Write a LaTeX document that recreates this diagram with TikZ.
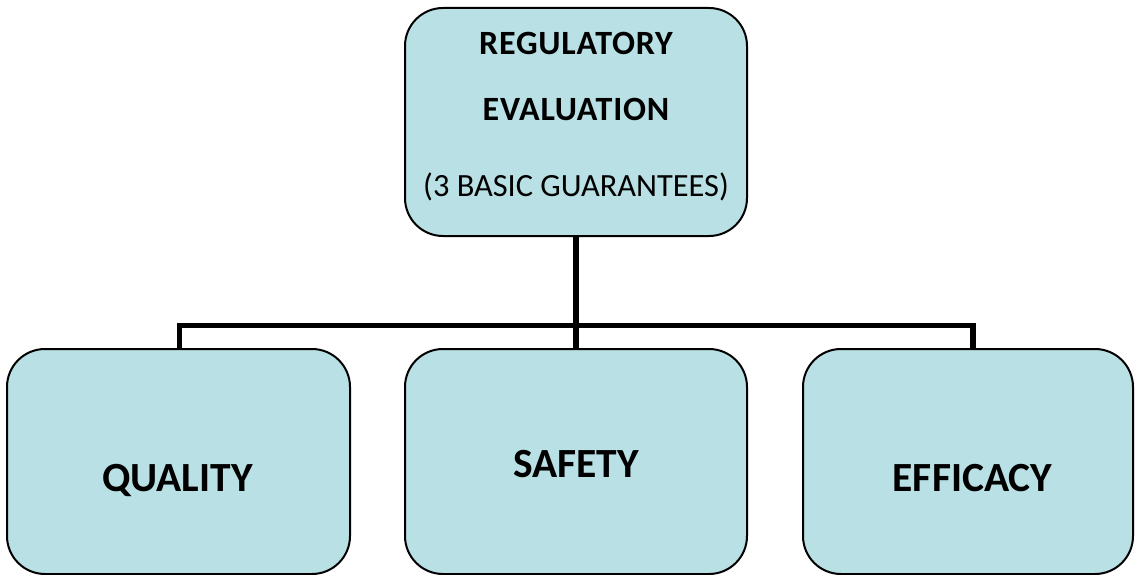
\documentclass[tikz,border=0pt]{standalone}
\usepackage{fontspec}
\setmainfont{Carlito}
\definecolor{boxfill}{RGB}{185,224,228}
\tikzset{
  card/.style={draw=black, line width=2pt, fill=boxfill, rounded corners=38pt,
               rectangle, inner sep=0pt},
  headtxt/.style={anchor=base, inner sep=0pt,
                  font=\fontsize{34}{40}\selectfont\bfseries\addfontfeature{LetterSpace=2.3}},
  subtxt/.style={anchor=base, inner sep=0pt, font=\fontsize{32.4}{38}\selectfont},
  leaftxt/.style={anchor=base, inner sep=0pt, font=\fontsize{41.5}{48}\selectfont\bfseries},
  link/.style={draw=black, line width=5.8pt}
}
\begin{document}
\begin{tikzpicture}[x=1pt,y=-1pt]
\useasboundingbox (0,0) rectangle (1135,575);

% boxes
\node[card, minimum width=342pt, minimum height=228pt] (top) at (576,122) {};
\node[card, minimum width=343pt, minimum height=225pt] (qual) at (178.5,461.5) {};
\node[card, minimum width=342pt, minimum height=225pt] (safe) at (576,461.5) {};
\node[card, minimum width=330pt, minimum height=225pt] (effi) at (968,461.5) {};

% labels
\node[headtxt] (t1) at (576,55) {REGULATORY};
\node[headtxt] (t2) at (576,120.5) {EVALUATION};
\node[subtxt]  (t3) at (576,196.5) {(3 BASIC GUARANTEES)};
\node[leaftxt] (l1) at (177.5,491.7) {QUALITY};
\node[leaftxt] (l2) at (576,477.3) {SAFETY};
\node[leaftxt] (l3) at (972.5,491.7) {EFFICACY};

% tree connectors
\coordinate (bus) at (576,325.5);
\coordinate (busL) at (179.5,325.5);
\coordinate (busR) at (973,325.5);
\draw[link] (top.south) -- (bus) -- (safe.north);
\draw[link, line join=miter] (qual.north -| busL) -- (busL) -- (busR) -- (effi.north -| busR);
\end{tikzpicture}
\end{document}
